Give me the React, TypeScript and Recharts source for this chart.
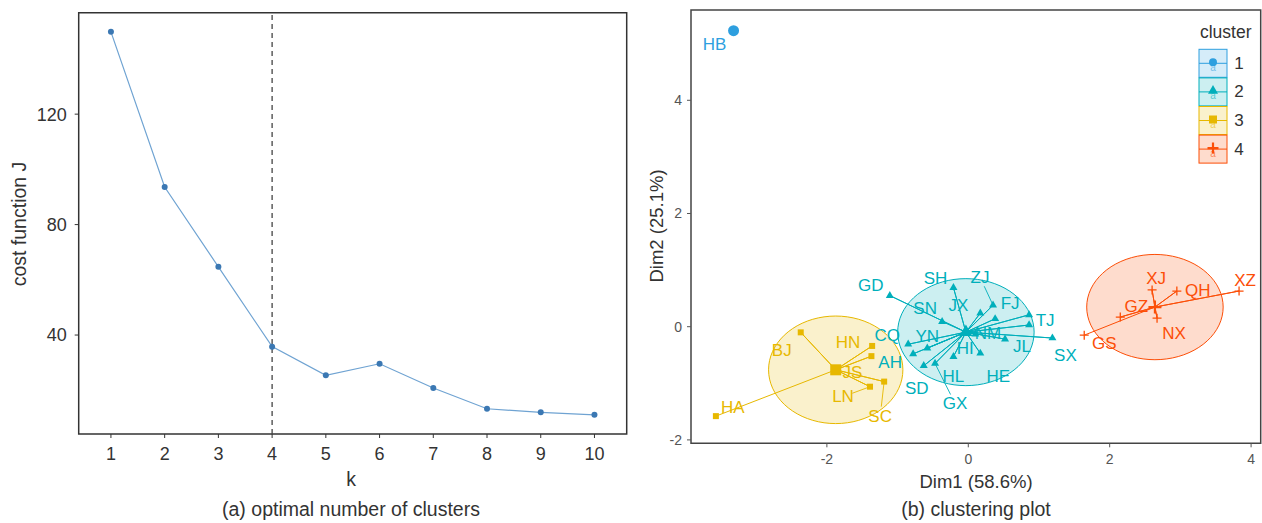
import React from "react";
import {
  LineChart,
  Line,
  XAxis,
  YAxis,
  ReferenceLine,
  ReferenceArea,
  ScatterChart,
  Scatter,
} from "recharts";

// (a) elbow curve
const K_VALUES = [1, 2, 3, 4, 5, 6, 7, 8, 9, 10];
const COST_J = [149.8, 93.6, 64.7, 35.8, 25.4, 29.6, 20.8, 13.3, 12.0, 11.1];
const COST_TICKS = [40, 80, 120];
const OPTIMAL_K = 4;

// (b) clustering plot (PCA coordinates)
const CLUSTER_IDS = ["1", "2", "3", "4"];
const CLUSTER_COLORS = ["#2E9FDF", "#00AFBB", "#E7B800", "#FC4E07"];
const CLUSTER_SHAPES = ["circle", "triangle", "square", "cross"];

const C1_NAMES = ["HB"];
const C1_DIM1 = [-3.32];
const C1_DIM2 = [5.23];

const C2_NAMES = ["GD", "SH", "ZJ", "JX", "FJ", "TJ", "NM", "JL", "SX", "CQ", "AH", "YN", "SD", "GX", "HL", "HI", "HE", "SN"];
const C2_DIM1 = [-1.11, -0.21, 0.35, 0.17, 0.38, 0.86, 0.52, 0.86, 1.19, -0.85, -0.78, -0.58, -0.63, -0.47, -0.21, 0.1, 0.17, -0.37];
const C2_DIM2 = [0.55, 0.69, 0.38, 0.24, 0.14, 0.21, -0.22, 0.03, -0.2, -0.31, -0.48, -0.38, -0.69, -0.65, -0.53, -0.13, -0.47, 0.09];

const C3_NAMES = ["BJ", "HN", "JS", "SC", "LN", "HA"];
const C3_DIM1 = [-2.37, -1.36, -1.37, -1.19, -1.39, -3.57];
const C3_DIM2 = [-0.1, -0.34, -0.52, -0.97, -1.06, -1.58];

const C4_NAMES = ["XZ", "QH", "XJ", "GZ", "NX", "GS"];
const C4_DIM1 = [3.83, 2.95, 2.6, 2.15, 2.67, 1.64];
const C4_DIM2 = [0.63, 0.63, 0.65, 0.17, 0.15, -0.15];

const ELLIPSE_RX = [0, 0.965, 0.95, 0.965];
const ELLIPSE_RY = [0, 0.945, 0.95, 0.93];
const DIM_TICKS = [-2, 0, 2, 4];

// repelled label offsets in px (label centre relative to point)
const LABEL_NUDGE: Record<string, [number, number]> = {
  HB: [-19, 14],
  GD: [-19, -10], SH: [-18, -9], ZJ: [-13, -28], JX: [-22, -8], FJ: [15, -15],
  TJ: [16, 6], NM: [-17, -6], JL: [-7, 22], SX: [13, 17], CQ: [-21, -9],
  AH: [-23, 9], YN: [0, -12], SD: [-7, 23], GX: [20, 40], HL: [0, 20],
  HI: [-10, 14], HE: [18, 23], SN: [-17, -13],
  BJ: [-19, 18], HN: [-24, -3], JS: [-19, 16], SC: [-4, 35], LN: [-27, 10], HA: [17, -9],
  XZ: [6, -11], QH: [21, -1], XJ: [4, -11], GZ: [16, -11], NX: [17, 15], GS: [20, 8],
};
const LABEL_SEGMENT = ["ZJ", "GX", "SC", "LN"];

const FONT = "'Liberation Sans', Arial, sans-serif";

const elbowData = K_VALUES.map((k, i) => ({ k, cost: COST_J[i] }));

const mean = (a: number[]) => a.reduce((s, v) => s + v, 0) / a.length;

const clusters = [
  { names: C1_NAMES, dim1: C1_DIM1, dim2: C1_DIM2 },
  { names: C2_NAMES, dim1: C2_DIM1, dim2: C2_DIM2 },
  { names: C3_NAMES, dim1: C3_DIM1, dim2: C3_DIM2 },
  { names: C4_NAMES, dim1: C4_DIM1, dim2: C4_DIM2 },
].map((c, i) => {
  const pts = c.names.map((name, j) => ({ name, x: c.dim1[j], y: c.dim2[j] }));
  const center = { x: mean(c.dim1), y: mean(c.dim2) };
  const ellipse =
    ELLIPSE_RX[i] > 0
      ? Array.from({ length: 73 }, (_, t) => {
          const a = (t / 72) * Math.PI * 2;
          return { x: center.x + ELLIPSE_RX[i] * Math.cos(a), y: center.y + ELLIPSE_RY[i] * Math.sin(a) };
        })
      : [];
  const star = pts.length > 1 ? pts.flatMap((p) => [center, p]) : [];
  return { id: CLUSTER_IDS[i], color: CLUSTER_COLORS[i], kind: CLUSTER_SHAPES[i], pts, center, ellipse, star };
});

function Marker({ kind, x, y, s, color }: { kind: string; x: number; y: number; s: number; color: string }) {
  if (kind === "circle") return <circle cx={x} cy={y} r={s / 2} fill={color} />;
  if (kind === "triangle") {
    const h = s * 0.87;
    return (
      <polygon
        points={`${x},${y - (h * 2) / 3} ${x - s / 2},${y + h / 3} ${x + s / 2},${y + h / 3}`}
        fill={color}
      />
    );
  }
  if (kind === "square") return <rect x={x - s / 2} y={y - s / 2} width={s} height={s} fill={color} />;
  return (
    <path
      d={`M${x - s / 2},${y}H${x + s / 2}M${x},${y - s / 2}V${y + s / 2}`}
      stroke={color}
      strokeWidth={s > 9 ? 2.2 : 1.3}
      fill="none"
    />
  );
}

const SMALL: Record<string, number> = { circle: 6, triangle: 8, square: 6, cross: 9 };
const BIG: Record<string, number> = { circle: 11, triangle: 13, square: 11, cross: 13 };

const pointShape = (kind: string, color: string) => (props: any) => {
  const { cx, cy } = props;
  const name = props.payload?.name ?? props.name;
  const [dx, dy] = LABEL_NUDGE[name] ?? [0, -12];
  let seg = null;
  if (LABEL_SEGMENT.includes(name)) {
    const len = Math.hypot(dx, dy);
    const f = (len - 10) / len;
    seg = <line x1={cx} y1={cy} x2={cx + dx * f} y2={cy + dy * f} stroke={color} strokeWidth={0.9} />;
  }
  return (
    <g>
      {seg}
      <Marker kind={kind} x={cx} y={cy} s={SMALL[kind]} color={color} />
      <text
        x={cx + dx}
        y={cy + dy}
        textAnchor="middle"
        dominantBaseline="central"
        fontSize={17}
        fill={color}
        style={{ fontFamily: FONT }}
      >
        {name}
      </text>
    </g>
  );
};

const centerShape = (kind: string, color: string) => (props: any) => (
  <Marker kind={kind} x={props.cx} y={props.cy} s={BIG[kind]} color={color} />
);

const emptyShape = () => <g />;

function Txt({ x, y, size, color = "#333", rotate = 0, children }: any) {
  return (
    <div
      style={{
        position: "absolute",
        left: x,
        top: y,
        transform: `translate(-50%, -50%) rotate(${rotate}deg)`,
        fontSize: size,
        color,
        whiteSpace: "nowrap",
        lineHeight: 1,
      }}
    >
      {children}
    </div>
  );
}

function ClusterLegend() {
  return (
    <svg style={{ position: "absolute", left: 1190, top: 18 }} width={72} height={150}>
      <text x={35.7} y={13.7} textAnchor="middle" dominantBaseline="central" fontSize={17.5} fill="#333">
        cluster
      </text>
      {clusters.map((c, i) => {
        const top = 31.3 + i * 28.6;
        const mid = top + 14;
        return (
          <g key={c.id}>
            <rect x={9} y={top} width={28} height={28} fill={c.color} fillOpacity={0.2} stroke={c.color} strokeWidth={1} />
            <line x1={9} x2={37} y1={mid} y2={mid} stroke={c.color} strokeWidth={1} />
            <text x={23} y={mid + 4} textAnchor="middle" dominantBaseline="central" fontSize={10} fill={c.color} opacity={0.6}>
              a
            </text>
            <Marker kind={c.kind} x={23} y={mid - 1} s={SMALL[c.kind] + 2} color={c.color} />
            <text x={49} y={mid} textAnchor="middle" dominantBaseline="central" fontSize={17} fill="#333">
              {c.id}
            </text>
          </g>
        );
      })}
    </svg>
  );
}

export default function App() {
  const xDom: [number, number] = [0.4, 10.6];
  const yDom: [number, number] = [4.16, 156.74];
  const d1: [number, number] = [-3.922, 4.136];
  const d2: [number, number] = [-2.06, 5.595];

  return (
    <div
      style={{
        position: "absolute",
        left: 0,
        top: 0,
        width: 1262,
        height: 523,
        background: "#fff",
        overflow: "hidden",
        fontFamily: FONT,
      }}
    >
      <div style={{ position: "absolute", left: 0, top: 0 }}>
        <LineChart width={640} height={523} data={elbowData} margin={{ top: 12.7, right: 13.3, left: 0, bottom: 59 }}>
          <XAxis
            dataKey="k"
            type="number"
            domain={xDom}
            ticks={K_VALUES}
            interval={0}
            height={30}
            axisLine={false}
            tickLine={{ stroke: "#333" }}
            tickSize={4}
            tickMargin={9}
            tick={{ fontSize: 18, fill: "#333" }}
          />
          <YAxis
            type="number"
            domain={yDom}
            ticks={COST_TICKS}
            width={78.7}
            axisLine={false}
            tickLine={{ stroke: "#333" }}
            tickSize={4}
            tickMargin={8}
            tick={{ fontSize: 18, fill: "#333" }}
          />
          <ReferenceLine x={OPTIMAL_K} stroke="#444" strokeDasharray="5 4" strokeWidth={1.3} />
          <Line
            dataKey="cost"
            stroke="#6fa3d2"
            strokeWidth={1.2}
            dot={{ r: 3, fill: "#3b78b3", stroke: "#3b78b3", strokeWidth: 0 }}
            isAnimationActive={false}
          />
          <ReferenceArea x1={xDom[0]} x2={xDom[1]} y1={yDom[0]} y2={yDom[1]} fill="none" stroke="#333" strokeWidth={1.5} />
        </LineChart>
      </div>

      <div style={{ position: "absolute", left: 640, top: 0 }}>
        <ScatterChart width={622} height={523} margin={{ top: 10, right: 1.3, left: 0, bottom: 49.7 }}>
          <XAxis
            dataKey="x"
            type="number"
            domain={d1}
            ticks={DIM_TICKS}
            interval={0}
            height={30}
            axisLine={false}
            tickLine={{ stroke: "#555" }}
            tickSize={4}
            tickMargin={7}
            tick={{ fontSize: 14, fill: "#555" }}
          />
          <YAxis
            dataKey="y"
            type="number"
            domain={d2}
            ticks={DIM_TICKS}
            width={51}
            axisLine={false}
            tickLine={{ stroke: "#555" }}
            tickSize={4}
            tickMargin={5}
            tick={{ fontSize: 14, fill: "#555" }}
          />
          {clusters
            .filter((c) => c.ellipse.length)
            .map((c) => (
              <Scatter
                key={`ell-${c.id}`}
                data={c.ellipse}
                shape={emptyShape}
                line={{ stroke: c.color, strokeWidth: 1, fill: c.color, fillOpacity: 0.2 }}
                lineType="joint"
                fill={c.color}
                isAnimationActive={false}
              />
            ))}
          {clusters
            .filter((c) => c.star.length)
            .map((c) => (
              <Scatter
                key={`star-${c.id}`}
                data={c.star}
                shape={emptyShape}
                line={{ stroke: c.color, strokeWidth: 1 }}
                lineType="joint"
                fill={c.color}
                isAnimationActive={false}
              />
            ))}
          {clusters.map((c) => (
            <Scatter
              key={`cent-${c.id}`}
              data={[c.center]}
              shape={centerShape(c.kind, c.color)}
              fill={c.color}
              isAnimationActive={false}
            />
          ))}
          {clusters.map((c) => (
            <Scatter
              key={`pts-${c.id}`}
              data={c.pts}
              shape={pointShape(c.kind, c.color)}
              fill={c.color}
              isAnimationActive={false}
            />
          ))}
          <ReferenceArea x1={d1[0]} x2={d1[1]} y1={d2[0]} y2={d2[1]} fill="none" stroke="#444" strokeWidth={1.5} />
        </ScatterChart>
      </div>

      <Txt x={20} y={224} size={19.5} rotate={-90}>cost function J</Txt>
      <Txt x={351} y={480} size={19.5}>k</Txt>
      <Txt x={351} y={510} size={19.5}>(a) optimal number of clusters</Txt>

      <Txt x={657} y={226} size={18.5} rotate={-90}>Dim2 (25.1%)</Txt>
      <Txt x={976} y={482} size={18.5}>Dim1 (58.6%)</Txt>
      <Txt x={976} y={510} size={19.5}>(b) clustering plot</Txt>

      <ClusterLegend />
    </div>
  );
}
